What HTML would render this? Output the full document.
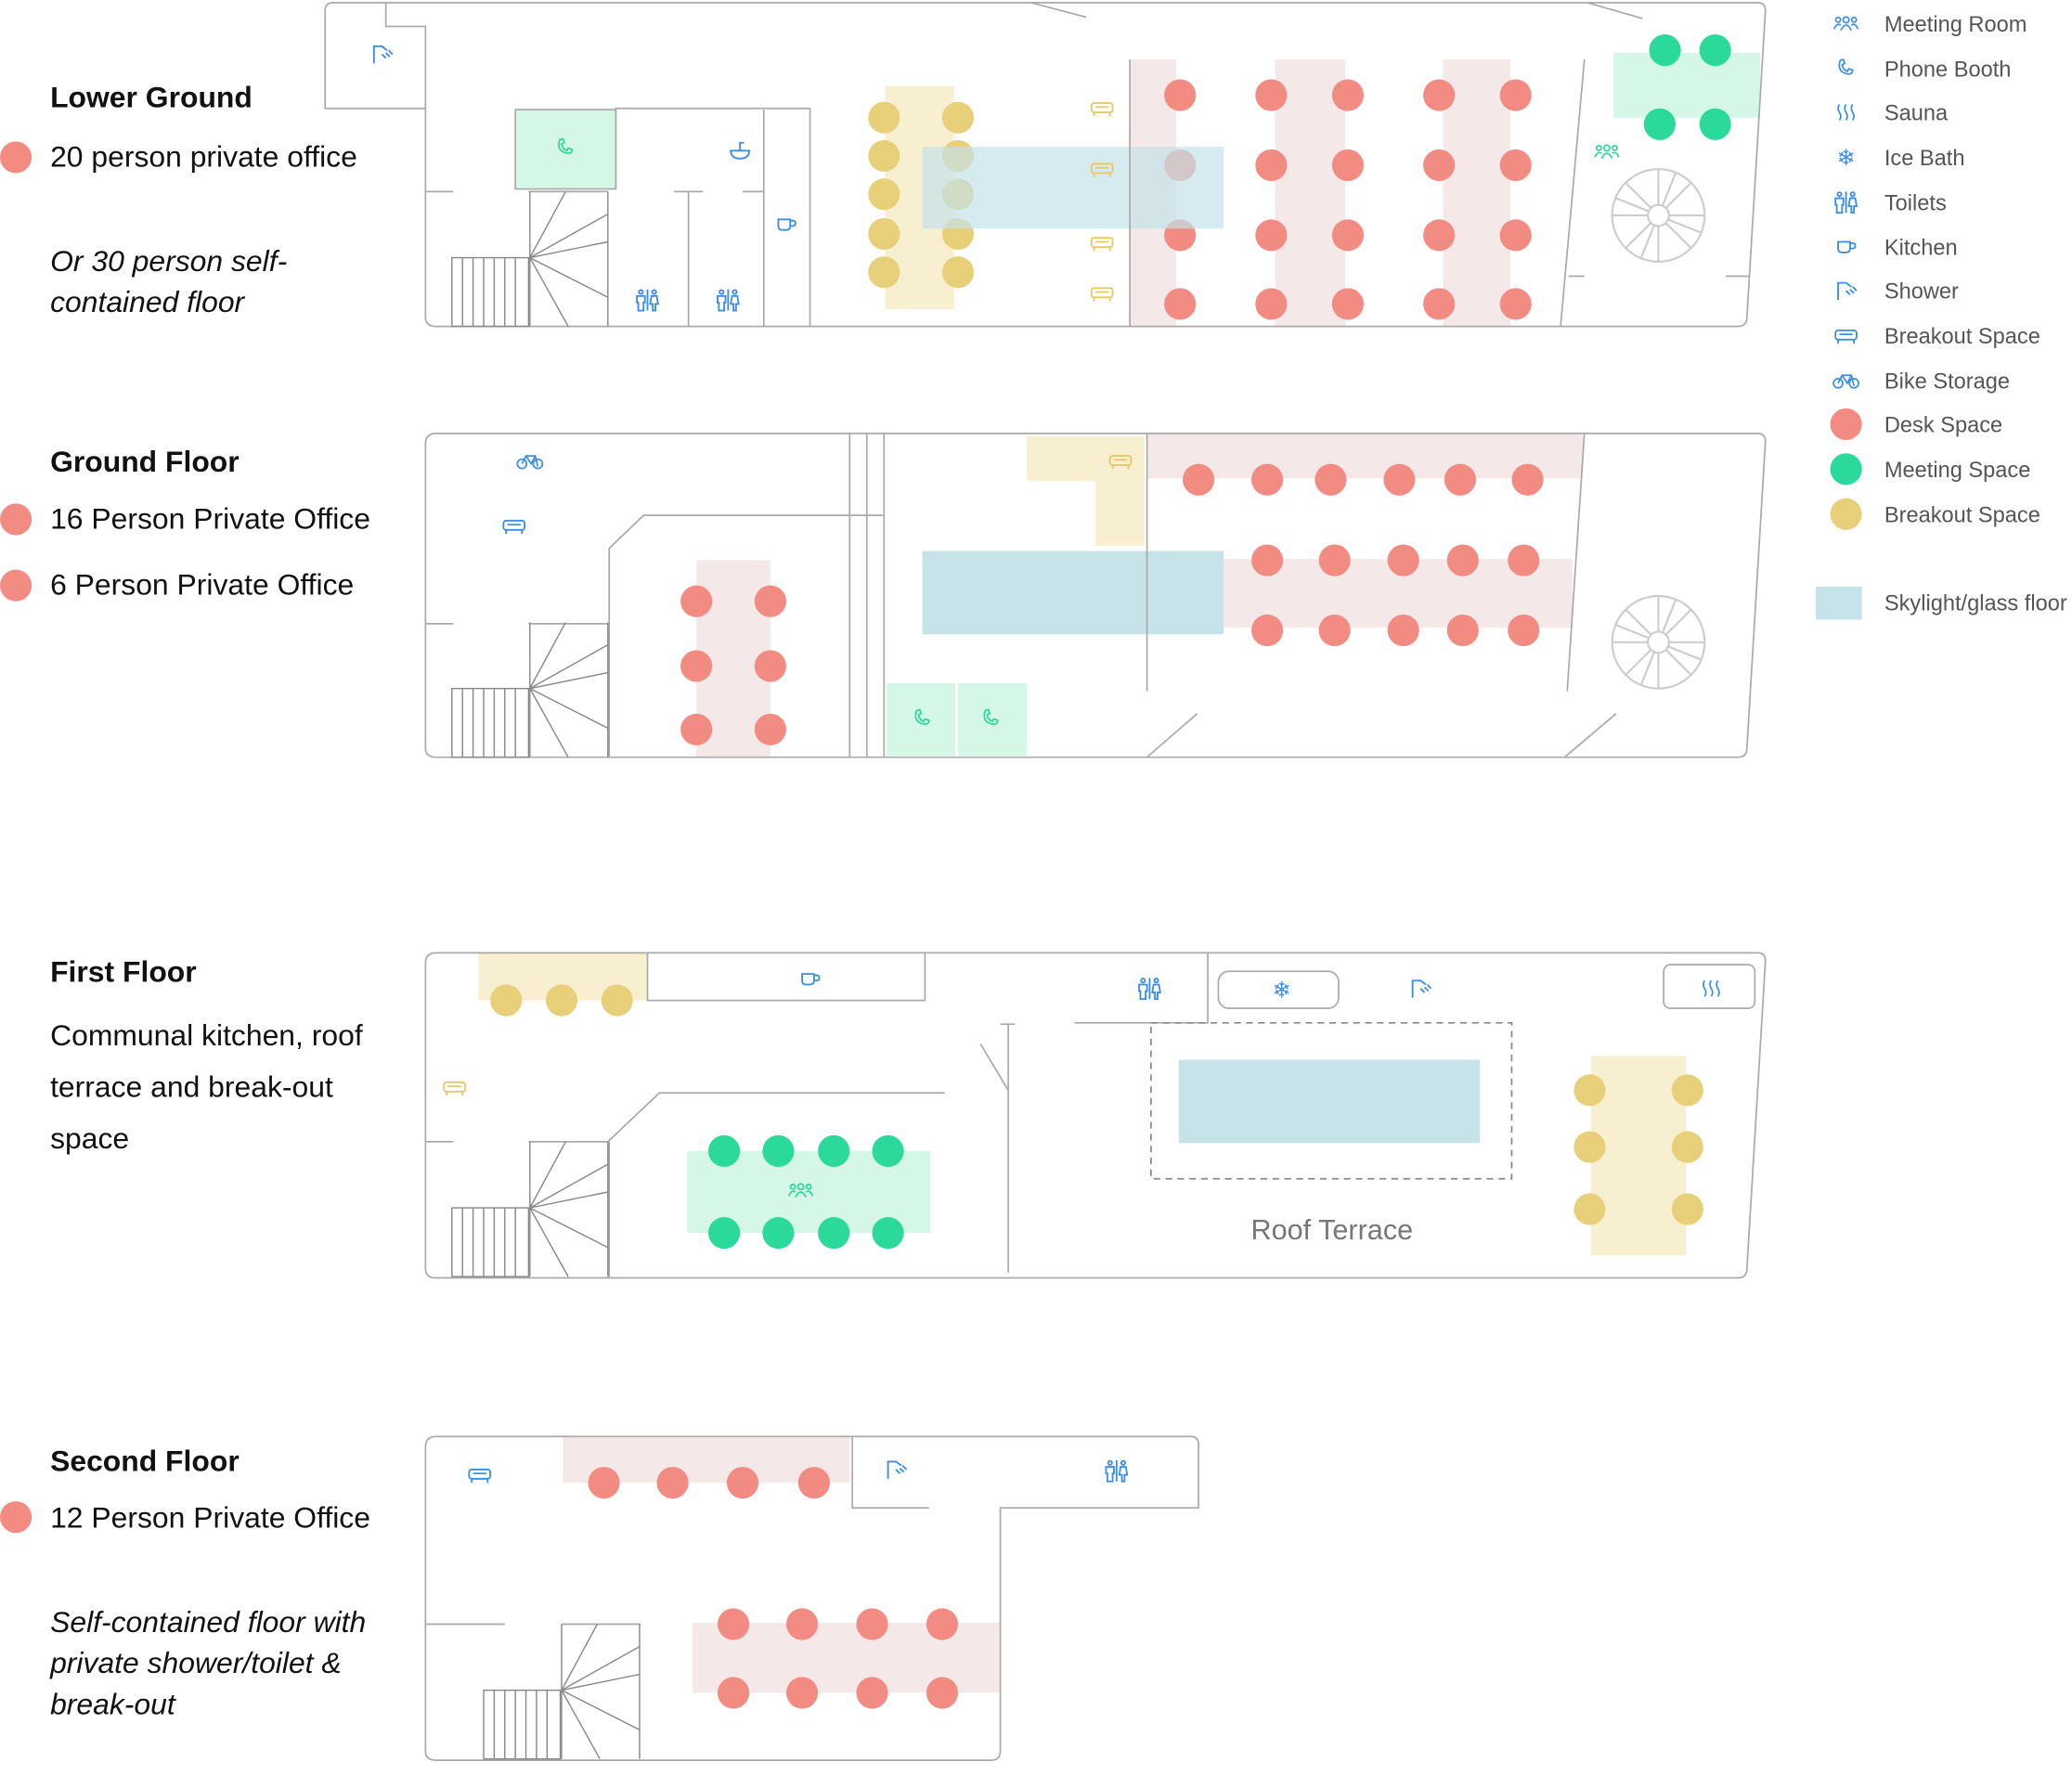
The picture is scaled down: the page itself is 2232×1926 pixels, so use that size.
<!DOCTYPE html>
<html><head><meta charset="utf-8">
<style>
html,body{margin:0;padding:0;background:#fff;}
svg{display:block;}
text{font-family:"Liberation Sans",sans-serif;}
</style></head>
<body>
<svg width="2232" height="1926" viewBox="0 0 1568 1353" preserveAspectRatio="none" xmlns="http://www.w3.org/2000/svg">
<defs>
  <g id="i-phone"><path d="M-5,-4 q0,-3 3,-3 l1,3 -2,1 q1,4 4,5 l1,-2 3,1 q0,3 -3,3 q-8,-1 -7,-8z" fill="none" stroke="currentColor" stroke-width="1.2"/></g>
  <g id="i-sofa"><rect x="-8" y="-4" width="16" height="7" rx="2" fill="none" stroke="currentColor" stroke-width="1.3"/><line x1="-5" y1="-1" x2="5" y2="-1" stroke="currentColor" stroke-width="1.2"/><line x1="-6" y1="3" x2="-6" y2="6" stroke="currentColor" stroke-width="1.3"/><line x1="6" y1="3" x2="6" y2="6" stroke="currentColor" stroke-width="1.3"/></g>
  <g id="i-toilet" fill="none" stroke="currentColor" stroke-width="1.3"><circle cx="-5" cy="-6" r="1.5"/><path d="M-8,-3 h6 v5 h-1 v6 h-4 v-6 h-1z"/><line x1="0" y1="-8" x2="0" y2="8"/><circle cx="5" cy="-6" r="1.5"/><path d="M3,-3 h4 l1,6 h-2 v5 h-2 v-5 h-2z"/></g>
  <g id="i-cup" fill="none" stroke="currentColor" stroke-width="1.3"><path d="M-6,-4 h9 v5 q0,3 -3,3 h-3 q-3,0 -3,-3z"/><path d="M3,-3 h2 q2,0 2,2 q0,2 -2,2 h-2"/></g>
  <g id="i-shower" fill="none" stroke="currentColor" stroke-width="1.3"><path d="M-6,7 v-13 h6 l4,3"/><line x1="0" y1="0" x2="3" y2="3"/><line x1="3" y1="-1" x2="6" y2="2"/><line x1="5" y1="-3" x2="8" y2="0"/></g>
  <g id="i-people" fill="none" stroke="currentColor" stroke-width="1.2"><circle cx="0" cy="-3" r="2.2"/><circle cx="-6" cy="-3" r="1.8"/><circle cx="6" cy="-3" r="1.8"/><path d="M-4,5 q4,-8 8,0"/><path d="M-9,4 q2,-5 5,-3"/><path d="M9,4 q-2,-5 -5,-3"/></g>
  <g id="i-bike" fill="none" stroke="currentColor" stroke-width="1.2"><circle cx="-6" cy="2" r="3.5"/><circle cx="6" cy="2" r="3.5"/><path d="M-6,2 l3,-6 h7 l2,8 M-3,-4 l4,6 l3,-6"/></g>
  <g id="i-sauna" fill="none" stroke="currentColor" stroke-width="1.2"><path d="M-5,-6 q-2,3 0,6 q2,3 0,6"/><path d="M0,-6 q-2,3 0,6 q2,3 0,6"/><path d="M5,-6 q-2,3 0,6 q2,3 0,6"/></g>
  <g id="i-sink" fill="none" stroke="currentColor" stroke-width="1.3"><path d="M-7,0 h14 q0,6 -7,6 q-7,0 -7,-6z"/><path d="M0,0 v-6 h3"/></g>
  <g id="stair" fill="none" stroke="#888" stroke-width="1">
    <rect x="0" y="0" width="58" height="52"/>
    <line x1="8" y1="0" x2="8" y2="52"/><line x1="16" y1="0" x2="16" y2="52"/><line x1="24" y1="0" x2="24" y2="52"/><line x1="32" y1="0" x2="32" y2="52"/><line x1="40" y1="0" x2="40" y2="52"/><line x1="48" y1="0" x2="48" y2="52"/>
    <line x1="59" y1="-50" x2="59" y2="52"/><line x1="118" y1="-50" x2="118" y2="52"/>
    <line x1="59" y1="0" x2="86" y2="-50"/><line x1="59" y1="0" x2="118" y2="-33"/><line x1="59" y1="0" x2="118" y2="-12"/><line x1="59" y1="0" x2="118" y2="30"/><line x1="59" y1="0" x2="88" y2="52"/>
  </g>
  <g id="spiral" fill="none" stroke="#ccc" stroke-width="1.5">
    <circle r="35"/><circle r="8"/>
    <line x1="0" y1="-8" x2="0" y2="-35"/><line x1="8" y1="0" x2="35" y2="0"/><line x1="0" y1="8" x2="0" y2="35"/><line x1="-8" y1="0" x2="-35" y2="0"/>
    <line x1="6" y1="-6" x2="25" y2="-25"/><line x1="6" y1="6" x2="25" y2="25"/><line x1="-6" y1="6" x2="-25" y2="25"/><line x1="-6" y1="-6" x2="-25" y2="-25"/>
    <line x1="3" y1="-7" x2="13" y2="-32"/><line x1="7" y1="3" x2="32" y2="13"/><line x1="-3" y1="7" x2="-13" y2="32"/><line x1="-7" y1="-3" x2="-32" y2="-13"/>
  </g>
</defs>

<!-- LEFT LABELS -->
<g font-size="22.4" fill="#111">
  <text x="38" y="81" font-weight="bold">Lower Ground</text>
  <circle cx="12" cy="119" r="12" fill="#f28b82"/>
  <text x="38" y="126">20 person private office</text>
  <text x="38" y="205" font-style="italic">Or 30 person self-</text>
  <text x="38" y="236" font-style="italic">contained floor</text>

  <text x="38" y="357" font-weight="bold">Ground Floor</text>
  <circle cx="12" cy="393" r="12" fill="#f28b82"/>
  <text x="38" y="400">16 Person Private Office</text>
  <circle cx="12" cy="443" r="12" fill="#f28b82"/>
  <text x="38" y="450">6 Person Private Office</text>

  <text x="38" y="743" font-weight="bold">First Floor</text>
  <text x="38" y="791">Communal kitchen, roof</text>
  <text x="38" y="830">terrace and break-out</text>
  <text x="38" y="869">space</text>

  <text x="38" y="1113" font-weight="bold">Second Floor</text>
  <circle cx="12" cy="1148" r="12" fill="#f28b82"/>
  <text x="38" y="1156">12 Person Private Office</text>
  <text x="38" y="1235" font-style="italic">Self-contained floor with</text>
  <text x="38" y="1266" font-style="italic">private shower/toilet &amp;</text>
  <text x="38" y="1297" font-style="italic">break-out</text>
</g>

<!-- LEGEND -->
<g font-size="16.6" fill="#555">
  <use href="#i-people" x="1397" y="18" color="#3a8ee6"/><text x="1426" y="24">Meeting Room</text>
  <use href="#i-phone" x="1397" y="52" color="#3a8ee6"/><text x="1426" y="58">Phone Booth</text>
  <use href="#i-sauna" x="1397" y="85" color="#3a8ee6"/><text x="1426" y="91">Sauna</text>
  <text x="1397" y="125" text-anchor="middle" fill="#3a8ee6" font-family="DejaVu Sans" font-size="17">❄</text><text x="1426" y="125">Ice Bath</text>
  <use href="#i-toilet" x="1397" y="153" color="#3a8ee6"/><text x="1426" y="159">Toilets</text>
  <use href="#i-cup" x="1397" y="187" color="#3a8ee6"/><text x="1426" y="193">Kitchen</text>
  <use href="#i-shower" x="1397" y="220" color="#3a8ee6"/><text x="1426" y="226">Shower</text>
  <use href="#i-sofa" x="1397" y="254" color="#3a8ee6"/><text x="1426" y="260">Breakout Space</text>
  <use href="#i-bike" x="1397" y="288" color="#3a8ee6"/><text x="1426" y="294">Bike Storage</text>
  <circle cx="1397" cy="321" r="12" fill="#f28b82"/><text x="1426" y="327">Desk Space</text>
  <circle cx="1397" cy="355" r="12" fill="#2bd99a"/><text x="1426" y="361">Meeting Space</text>
  <circle cx="1397" cy="389" r="12" fill="#e8d07a"/><text x="1426" y="395">Breakout Space</text>
  <rect x="1374" y="444" width="35" height="25" fill="#c5e3e8"/><text x="1426" y="462">Skylight/glass floor</text>
</g>

<!-- ===== LOWER GROUND ===== -->
<g>
  <rect x="855" y="45" width="35" height="202" fill="#f5e8e8"/>
  <rect x="965" y="45" width="53" height="202" fill="#f5e8e8"/>
  <rect x="1092" y="45" width="51" height="202" fill="#f5e8e8"/>
  <rect x="670" y="65" width="52" height="169" fill="#f7efcf"/>
  <rect x="1221" y="40" width="111" height="49" fill="#d4f7e8"/>
  <rect x="390" y="83" width="76" height="60" fill="#d4f7e8"/>
  <g fill="#e8d07a">
    <circle cx="669" cy="89" r="12"/><circle cx="669" cy="118" r="12"/><circle cx="669" cy="147" r="12"/><circle cx="669" cy="177" r="12"/><circle cx="669" cy="206" r="12"/>
    <circle cx="725" cy="89" r="12"/><circle cx="725" cy="118" r="12"/><circle cx="725" cy="147" r="12"/><circle cx="725" cy="177" r="12"/><circle cx="725" cy="206" r="12"/>
  </g>
  <g fill="#f28b82">
    <circle cx="893" cy="72" r="12"/><circle cx="893" cy="125" r="12"/><circle cx="893" cy="178" r="12"/><circle cx="893" cy="230" r="12"/>
    <circle cx="962" cy="72" r="12"/><circle cx="962" cy="125" r="12"/><circle cx="962" cy="178" r="12"/><circle cx="962" cy="230" r="12"/>
    <circle cx="1020" cy="72" r="12"/><circle cx="1020" cy="125" r="12"/><circle cx="1020" cy="178" r="12"/><circle cx="1020" cy="230" r="12"/>
    <circle cx="1089" cy="72" r="12"/><circle cx="1089" cy="125" r="12"/><circle cx="1089" cy="178" r="12"/><circle cx="1089" cy="230" r="12"/>
    <circle cx="1147" cy="72" r="12"/><circle cx="1147" cy="125" r="12"/><circle cx="1147" cy="178" r="12"/><circle cx="1147" cy="230" r="12"/>
  </g>
  <g fill="#2bd99a"><circle cx="1260" cy="38" r="12"/><circle cx="1298" cy="38" r="12"/><circle cx="1256" cy="94" r="12"/><circle cx="1298" cy="94" r="12"/></g>
  <rect x="698" y="111" width="228" height="62" fill="#c5e3e8" opacity="0.7"/>
  <g fill="none" stroke="#aaa" stroke-width="1.2">
    <path d="M252,2 H1330 Q1336,2 1336,8 L1322,240 Q1322,247 1315,247 H330 Q322,247 322,240 V82 H246 V8 Q246,2 252,2 Z"/>
    <path d="M292,2 V20 H322 V82"/>
    <line x1="780" y1="2" x2="822" y2="13"/><line x1="1201" y1="2" x2="1243" y2="14"/>
    <line x1="855" y1="45" x2="855" y2="247"/>
    <line x1="1199" y1="45" x2="1181" y2="247"/>
    <line x1="1187" y1="209" x2="1199" y2="209"/><line x1="1306" y1="209" x2="1324" y2="209"/>
    <path d="M390,83 H466 V143 H390 Z"/>
    <path d="M466,143 V82 H613 V247"/>
    <line x1="578" y1="83" x2="578" y2="247"/>
    <line x1="322" y1="145" x2="343" y2="145"/><line x1="400" y1="145" x2="460" y2="145"/>
    <line x1="510" y1="145" x2="532" y2="145"/><line x1="521" y1="145" x2="521" y2="247"/>
    <line x1="562" y1="145" x2="578" y2="145"/>
  </g>
  <use href="#stair" x="342" y="195"/>
  <use href="#spiral" x="1255" y="163"/>
  <use href="#i-shower" x="289" y="41" color="#3a8ee6"/>
  <use href="#i-phone" x="428" y="112" color="#2bd99a"/>
  <use href="#i-sink" x="560" y="114" color="#3a8ee6"/>
  <use href="#i-cup" x="595" y="170" color="#3a8ee6"/>
  <use href="#i-toilet" x="490" y="227" color="#3a8ee6"/>
  <use href="#i-toilet" x="551" y="227" color="#3a8ee6"/>
  <use href="#i-sofa" x="834" y="82" color="#e8c860"/>
  <use href="#i-sofa" x="834" y="128" color="#e8c860"/>
  <use href="#i-sofa" x="834" y="184" color="#e8c860"/>
  <use href="#i-sofa" x="834" y="222" color="#e8c860"/>
  <use href="#i-people" x="1216" y="115" color="#2bd99a"/>
</g>

<!-- ===== GROUND FLOOR ===== -->
<g>
  <rect x="868" y="328" width="330" height="34" fill="#f5e8e8"/>
  <rect x="926" y="423" width="264" height="52" fill="#f5e8e8"/>
  <rect x="527" y="424" width="56" height="149" fill="#f5e8e8"/>
  <path d="M777,330 H866 V413 H829 V364 H777 Z" fill="#f7efcf"/>
  <rect x="671" y="517" width="52" height="55" fill="#d4f7e8"/>
  <rect x="725" y="517" width="52" height="55" fill="#d4f7e8"/>
  <rect x="698" y="417" width="228" height="63" fill="#c5e3e8"/>
  <g fill="#f28b82">
    <circle cx="907" cy="363" r="12"/><circle cx="959" cy="363" r="12"/><circle cx="1007" cy="363" r="12"/><circle cx="1059" cy="363" r="12"/><circle cx="1105" cy="363" r="12"/><circle cx="1156" cy="363" r="12"/>
    <circle cx="959" cy="424" r="12"/><circle cx="1010" cy="424" r="12"/><circle cx="1062" cy="424" r="12"/><circle cx="1107" cy="424" r="12"/><circle cx="1153" cy="424" r="12"/>
    <circle cx="959" cy="477" r="12"/><circle cx="1010" cy="477" r="12"/><circle cx="1062" cy="477" r="12"/><circle cx="1107" cy="477" r="12"/><circle cx="1153" cy="477" r="12"/>
    <circle cx="527" cy="455" r="12"/><circle cx="527" cy="504" r="12"/><circle cx="527" cy="552" r="12"/>
    <circle cx="583" cy="455" r="12"/><circle cx="583" cy="504" r="12"/><circle cx="583" cy="552" r="12"/>
  </g>
  <g fill="none" stroke="#aaa" stroke-width="1.2">
    <path d="M330,328 H1330 Q1336,328 1336,334 L1322,566 Q1322,573 1315,573 H330 Q322,573 322,566 V336 Q322,328 330,328 Z"/>
    <line x1="643" y1="328" x2="643" y2="573"/><line x1="656" y1="328" x2="656" y2="573"/><line x1="669" y1="328" x2="669" y2="573"/>
    <path d="M461,573 V415 L487,390 H669"/>
    <line x1="868" y1="328" x2="868" y2="523"/>
    <line x1="1199" y1="328" x2="1186" y2="523"/>
    <line x1="868" y1="573" x2="906" y2="540"/><line x1="1184" y1="573" x2="1223" y2="540"/>
    <line x1="322" y1="472" x2="343" y2="472"/><line x1="400" y1="472" x2="461" y2="472"/>
  </g>
  <use href="#stair" x="342" y="521"/>
  <use href="#spiral" x="1255" y="486"/>
  <use href="#i-bike" x="401" y="349" color="#3a8ee6"/>
  <use href="#i-sofa" x="389" y="398" color="#3a8ee6"/>
  <use href="#i-sofa" x="848" y="349" color="#e8c860"/>
  <use href="#i-phone" x="698" y="544" color="#2bd99a"/>
  <use href="#i-phone" x="750" y="544" color="#2bd99a"/>
</g>

<!-- ===== FIRST FLOOR ===== -->
<g>
  <rect x="362" y="721" width="128" height="36" fill="#f7efcf"/>
  <rect x="1204" y="799" width="72" height="151" fill="#f7efcf"/>
  <rect x="520" y="871" width="184" height="62" fill="#d4f7e8"/>
  <rect x="892" y="802" width="228" height="63" fill="#c5e3e8"/>
  <g fill="#e8d07a">
    <circle cx="383" cy="757" r="12"/><circle cx="425" cy="757" r="12"/><circle cx="467" cy="757" r="12"/>
    <circle cx="1203" cy="825" r="12"/><circle cx="1203" cy="868" r="12"/><circle cx="1203" cy="915" r="12"/>
    <circle cx="1277" cy="825" r="12"/><circle cx="1277" cy="868" r="12"/><circle cx="1277" cy="915" r="12"/>
  </g>
  <g fill="#2bd99a">
    <circle cx="548" cy="871" r="12"/><circle cx="589" cy="871" r="12"/><circle cx="631" cy="871" r="12"/><circle cx="672" cy="871" r="12"/>
    <circle cx="548" cy="933" r="12"/><circle cx="589" cy="933" r="12"/><circle cx="631" cy="933" r="12"/><circle cx="672" cy="933" r="12"/>
  </g>
  <g fill="none" stroke="#aaa" stroke-width="1.2">
    <path d="M330,721 H1330 Q1336,721 1336,727 L1322,960 Q1322,967 1315,967 H330 Q322,967 322,960 V729 Q322,721 330,721 Z"/>
    <path d="M490,721 V757 H700 V721"/>
    <path d="M461,967 V863 L499,827 H715"/>
    <line x1="763" y1="775" x2="763" y2="963"/><line x1="757" y1="775" x2="768" y2="775"/>
    <line x1="742" y1="790" x2="763" y2="825"/>
    <path d="M813,774 H914 V721"/>
    <rect x="922" y="735" width="91" height="28" rx="8"/>
    <rect x="1259" y="730" width="69" height="33" rx="5"/>
    <line x1="322" y1="864" x2="343" y2="864"/><line x1="400" y1="864" x2="461" y2="864"/>
  </g>
  <rect x="871" y="774" width="273" height="118" fill="none" stroke="#888" stroke-width="1.2" stroke-dasharray="5,4"/>
  <use href="#stair" x="342" y="914"/>
  <use href="#i-cup" x="613" y="741" color="#3a8ee6"/>
  <use href="#i-toilet" x="870" y="748" color="#3a8ee6"/>
  <text x="970" y="755" text-anchor="middle" fill="#3a8ee6" font-family="DejaVu Sans" font-size="17">❄</text>
  <use href="#i-shower" x="1075" y="748" color="#3a8ee6"/>
  <use href="#i-sauna" x="1295" y="748" color="#3a8ee6"/>
  <use href="#i-sofa" x="344" y="823" color="#e8c860"/>
  <use href="#i-people" x="606" y="901" color="#2bd99a"/>
  <text x="1008" y="938" text-anchor="middle" font-size="21.5" fill="#777">Roof Terrace</text>
</g>

<!-- ===== SECOND FLOOR ===== -->
<g>
  <rect x="426" y="1087" width="217" height="35" fill="#f5e8e8"/>
  <rect x="524" y="1228" width="233" height="53" fill="#f5e8e8"/>
  <g fill="#f28b82">
    <circle cx="457" cy="1122" r="12"/><circle cx="509" cy="1122" r="12"/><circle cx="562" cy="1122" r="12"/><circle cx="616" cy="1122" r="12"/>
    <circle cx="555" cy="1229" r="12"/><circle cx="607" cy="1229" r="12"/><circle cx="660" cy="1229" r="12"/><circle cx="713" cy="1229" r="12"/>
    <circle cx="555" cy="1281" r="12"/><circle cx="607" cy="1281" r="12"/><circle cx="660" cy="1281" r="12"/><circle cx="713" cy="1281" r="12"/>
  </g>
  <g fill="none" stroke="#aaa" stroke-width="1.2">
    <path d="M330,1087 H901 Q907,1087 907,1093 V1141 H757 V1325 Q757,1332 750,1332 H330 Q322,1332 322,1325 V1095 Q322,1087 330,1087 Z"/>
    <path d="M645,1087 V1141 H703"/>
    <line x1="322" y1="1229" x2="382" y2="1229"/><line x1="425" y1="1229" x2="485" y2="1229"/>
  </g>
  <g transform="translate(24,0)"><use href="#stair" x="342" y="1279"/></g>
  <use href="#i-sofa" x="363" y="1116" color="#3a8ee6"/>
  <use href="#i-shower" x="678" y="1112" color="#3a8ee6"/>
  <use href="#i-toilet" x="845" y="1113" color="#3a8ee6"/>
</g>
</svg>
</body></html>
